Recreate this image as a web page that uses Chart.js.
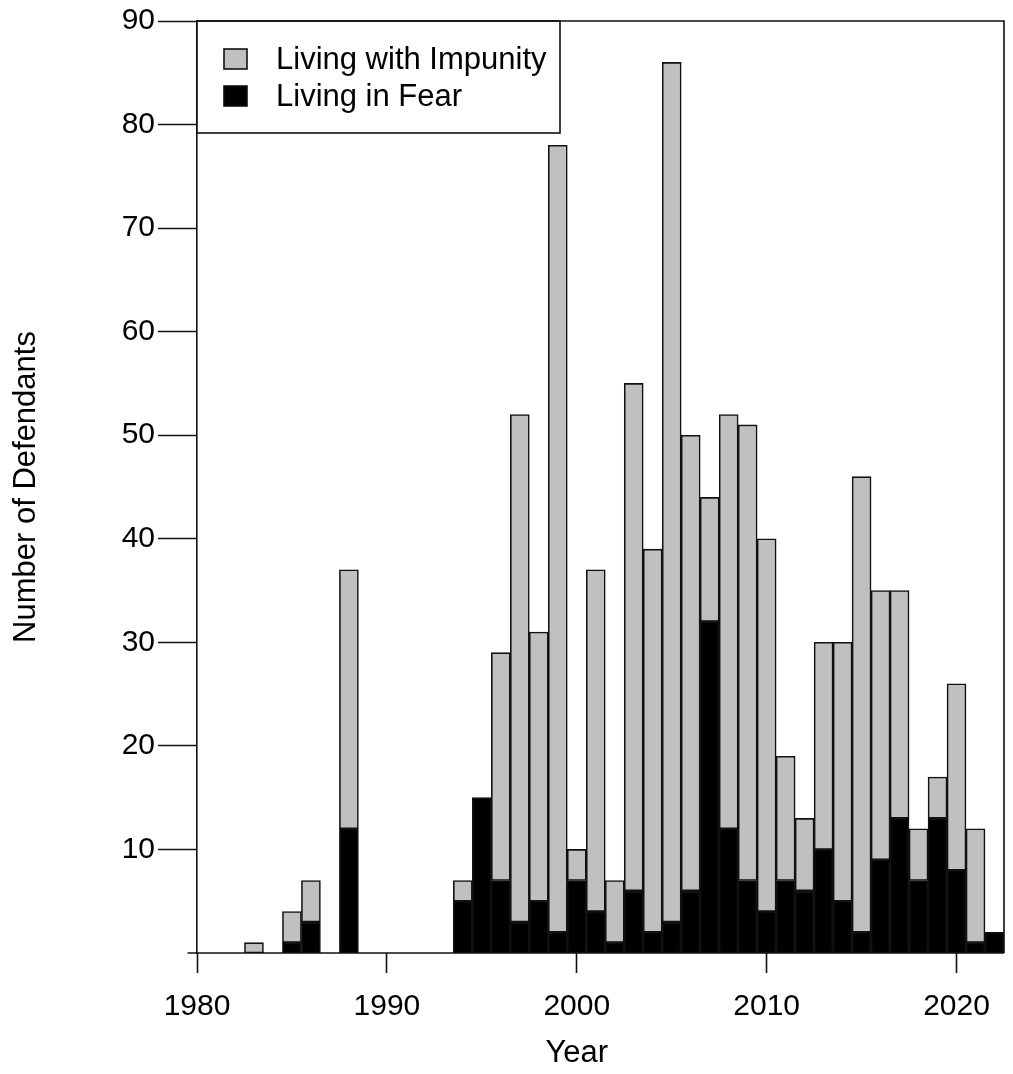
<!DOCTYPE html>
<html>
<head>
<meta charset="utf-8">
<script src="https://cdn.jsdelivr.net/npm/chart.js@4"></script>
<style>
  body { margin: 0; background: #fff; }
  canvas { display: block; }
</style>
</head>
<body>
<canvas id="chart" width="1013" height="1074"></canvas>
<script>
// Data
const years = [1980, 1981, 1982, 1983, 1984, 1985, 1986, 1987, 1988, 1989,
  1990, 1991, 1992, 1993, 1994, 1995, 1996, 1997, 1998, 1999,
  2000, 2001, 2002, 2003, 2004, 2005, 2006, 2007, 2008, 2009,
  2010, 2011, 2012, 2013, 2014, 2015, 2016, 2017, 2018, 2019,
  2020, 2021, 2022];
const livingInFear = [0, 0, 0, 0, 0, 1, 3, 0, 12, 0,
  0, 0, 0, 0, 5, 15, 7, 3, 5, 2,
  7, 4, 1, 6, 2, 3, 6, 32, 12, 7,
  4, 7, 6, 10, 5, 2, 9, 13, 7, 13,
  8, 1, 2];
const livingWithImpunity = [0, 0, 0, 1, 0, 3, 4, 0, 25, 0,
  0, 0, 0, 0, 2, 0, 22, 49, 26, 76,
  3, 33, 6, 49, 37, 83, 44, 12, 40, 44,
  36, 12, 7, 20, 25, 44, 26, 22, 5, 4,
  18, 11, 0];
const yTicks = [10, 20, 30, 40, 50, 60, 70, 80, 90];
const xTicks = [1980, 1990, 2000, 2010, 2020];

const FONT = "'Liberation Sans', Arial, sans-serif";
Chart.defaults.font.family = FONT;
Chart.defaults.font.size = 30;
Chart.defaults.color = "#000";

// Baseline, legend box and x title
const extras = {
  id: "extras",
  afterDatasetsDraw(chart) {
    const ctx = chart.ctx;
    const x = chart.scales.x, y = chart.scales.y;
    ctx.save();
    ctx.strokeStyle = "#111";
    ctx.lineWidth = 1.6;
    const y0 = y.getPixelForValue(0);
    ctx.beginPath();
    ctx.moveTo(x.getPixelForValue(years[0] - 0.5), y0);
    ctx.lineTo(x.getPixelForValue(years[years.length - 1] + 0.5), y0);
    ctx.stroke();

    // legend
    const left = chart.chartArea.left, top = chart.chartArea.top;
    ctx.fillStyle = "#fff";
    ctx.fillRect(left, top, 363, 112);
    ctx.strokeRect(left, top, 363, 112);
    const items = [chart.data.datasets[1], chart.data.datasets[0]];
    ctx.font = "31px " + FONT;
    items.forEach((ds, i) => {
      const cy = top + 38 + i * 37;
      ctx.fillStyle = ds.backgroundColor;
      ctx.fillRect(left + 27, cy - 10, 23, 20);
      ctx.strokeRect(left + 27, cy - 10, 23, 20);
      ctx.fillStyle = "#000";
      ctx.textBaseline = "alphabetic";
      ctx.textAlign = "left";
      ctx.fillText(ds.label, left + 79, cy + 10);
    });

    // x axis title
    ctx.textAlign = "center";
    ctx.fillText("Year", x.getPixelForValue(2000), 1062);
    ctx.restore();
  }
};

new Chart(document.getElementById("chart"), {
  type: "bar",
  data: {
    datasets: [
      {
        label: "Living in Fear",
        data: years.map((yr, i) => ({ x: yr, y: livingInFear[i] })),
        backgroundColor: "#000",
        borderColor: "#111",
        borderWidth: 1.6,
        borderSkipped: false,
        barPercentage: 1,
        categoryPercentage: 1
      },
      {
        label: "Living with Impunity",
        data: years.map((yr, i) => ({ x: yr, y: livingWithImpunity[i] })),
        backgroundColor: "#c0c0c0",
        borderColor: "#111",
        borderWidth: 1.6,
        borderSkipped: false,
        barPercentage: 1,
        categoryPercentage: 1
      }
    ]
  },
  options: {
    responsive: false,
    animation: false,
    devicePixelRatio: 1,
    layout: { padding: { top: 19, right: 9, left: 0, bottom: 0 } },
    plugins: { legend: { display: false }, tooltip: { enabled: false } },
    scales: {
      x: {
        type: "linear",
        stacked: true,
        offset: false,
        min: 1980,
        max: 2022.5,
        afterBuildTicks: s => { s.ticks = xTicks.map(v => ({ value: v })); },
        afterFit: s => { s.height = 121; },
        ticks: { padding: 16, maxRotation: 0, callback: v => String(v) },
        grid: { offset: false, drawOnChartArea: false, tickLength: 20, tickColor: "#111", tickWidth: 1.6 },
        border: { display: false }
      },
      y: {
        stacked: true,
        min: 0,
        max: 90,
        afterBuildTicks: s => { s.ticks = yTicks.map(v => ({ value: v })); },
        afterFit: s => { s.width = 197; },
        ticks: { padding: 3 },
        grid: { drawOnChartArea: false, tickLength: 39, tickColor: "#111", tickWidth: 1.6 },
        border: { display: true, color: "#111", width: 1.6 },
        title: { display: true, text: "Number of Defendants", font: { size: 31 }, padding: { top: 8, bottom: 0 } }
      }
    }
  },
  plugins: [extras, {
    id: "frame",
    afterDraw(chart) {
      const { left, right, top, bottom } = chart.chartArea;
      const ctx = chart.ctx;
      ctx.save();
      ctx.strokeStyle = "#111";
      ctx.lineWidth = 1.6;
      ctx.beginPath();
      ctx.moveTo(left, top);
      ctx.lineTo(right, top);
      ctx.lineTo(right, bottom);
      ctx.stroke();
      ctx.restore();
    }
  }]
});
</script>
</body>
</html>
